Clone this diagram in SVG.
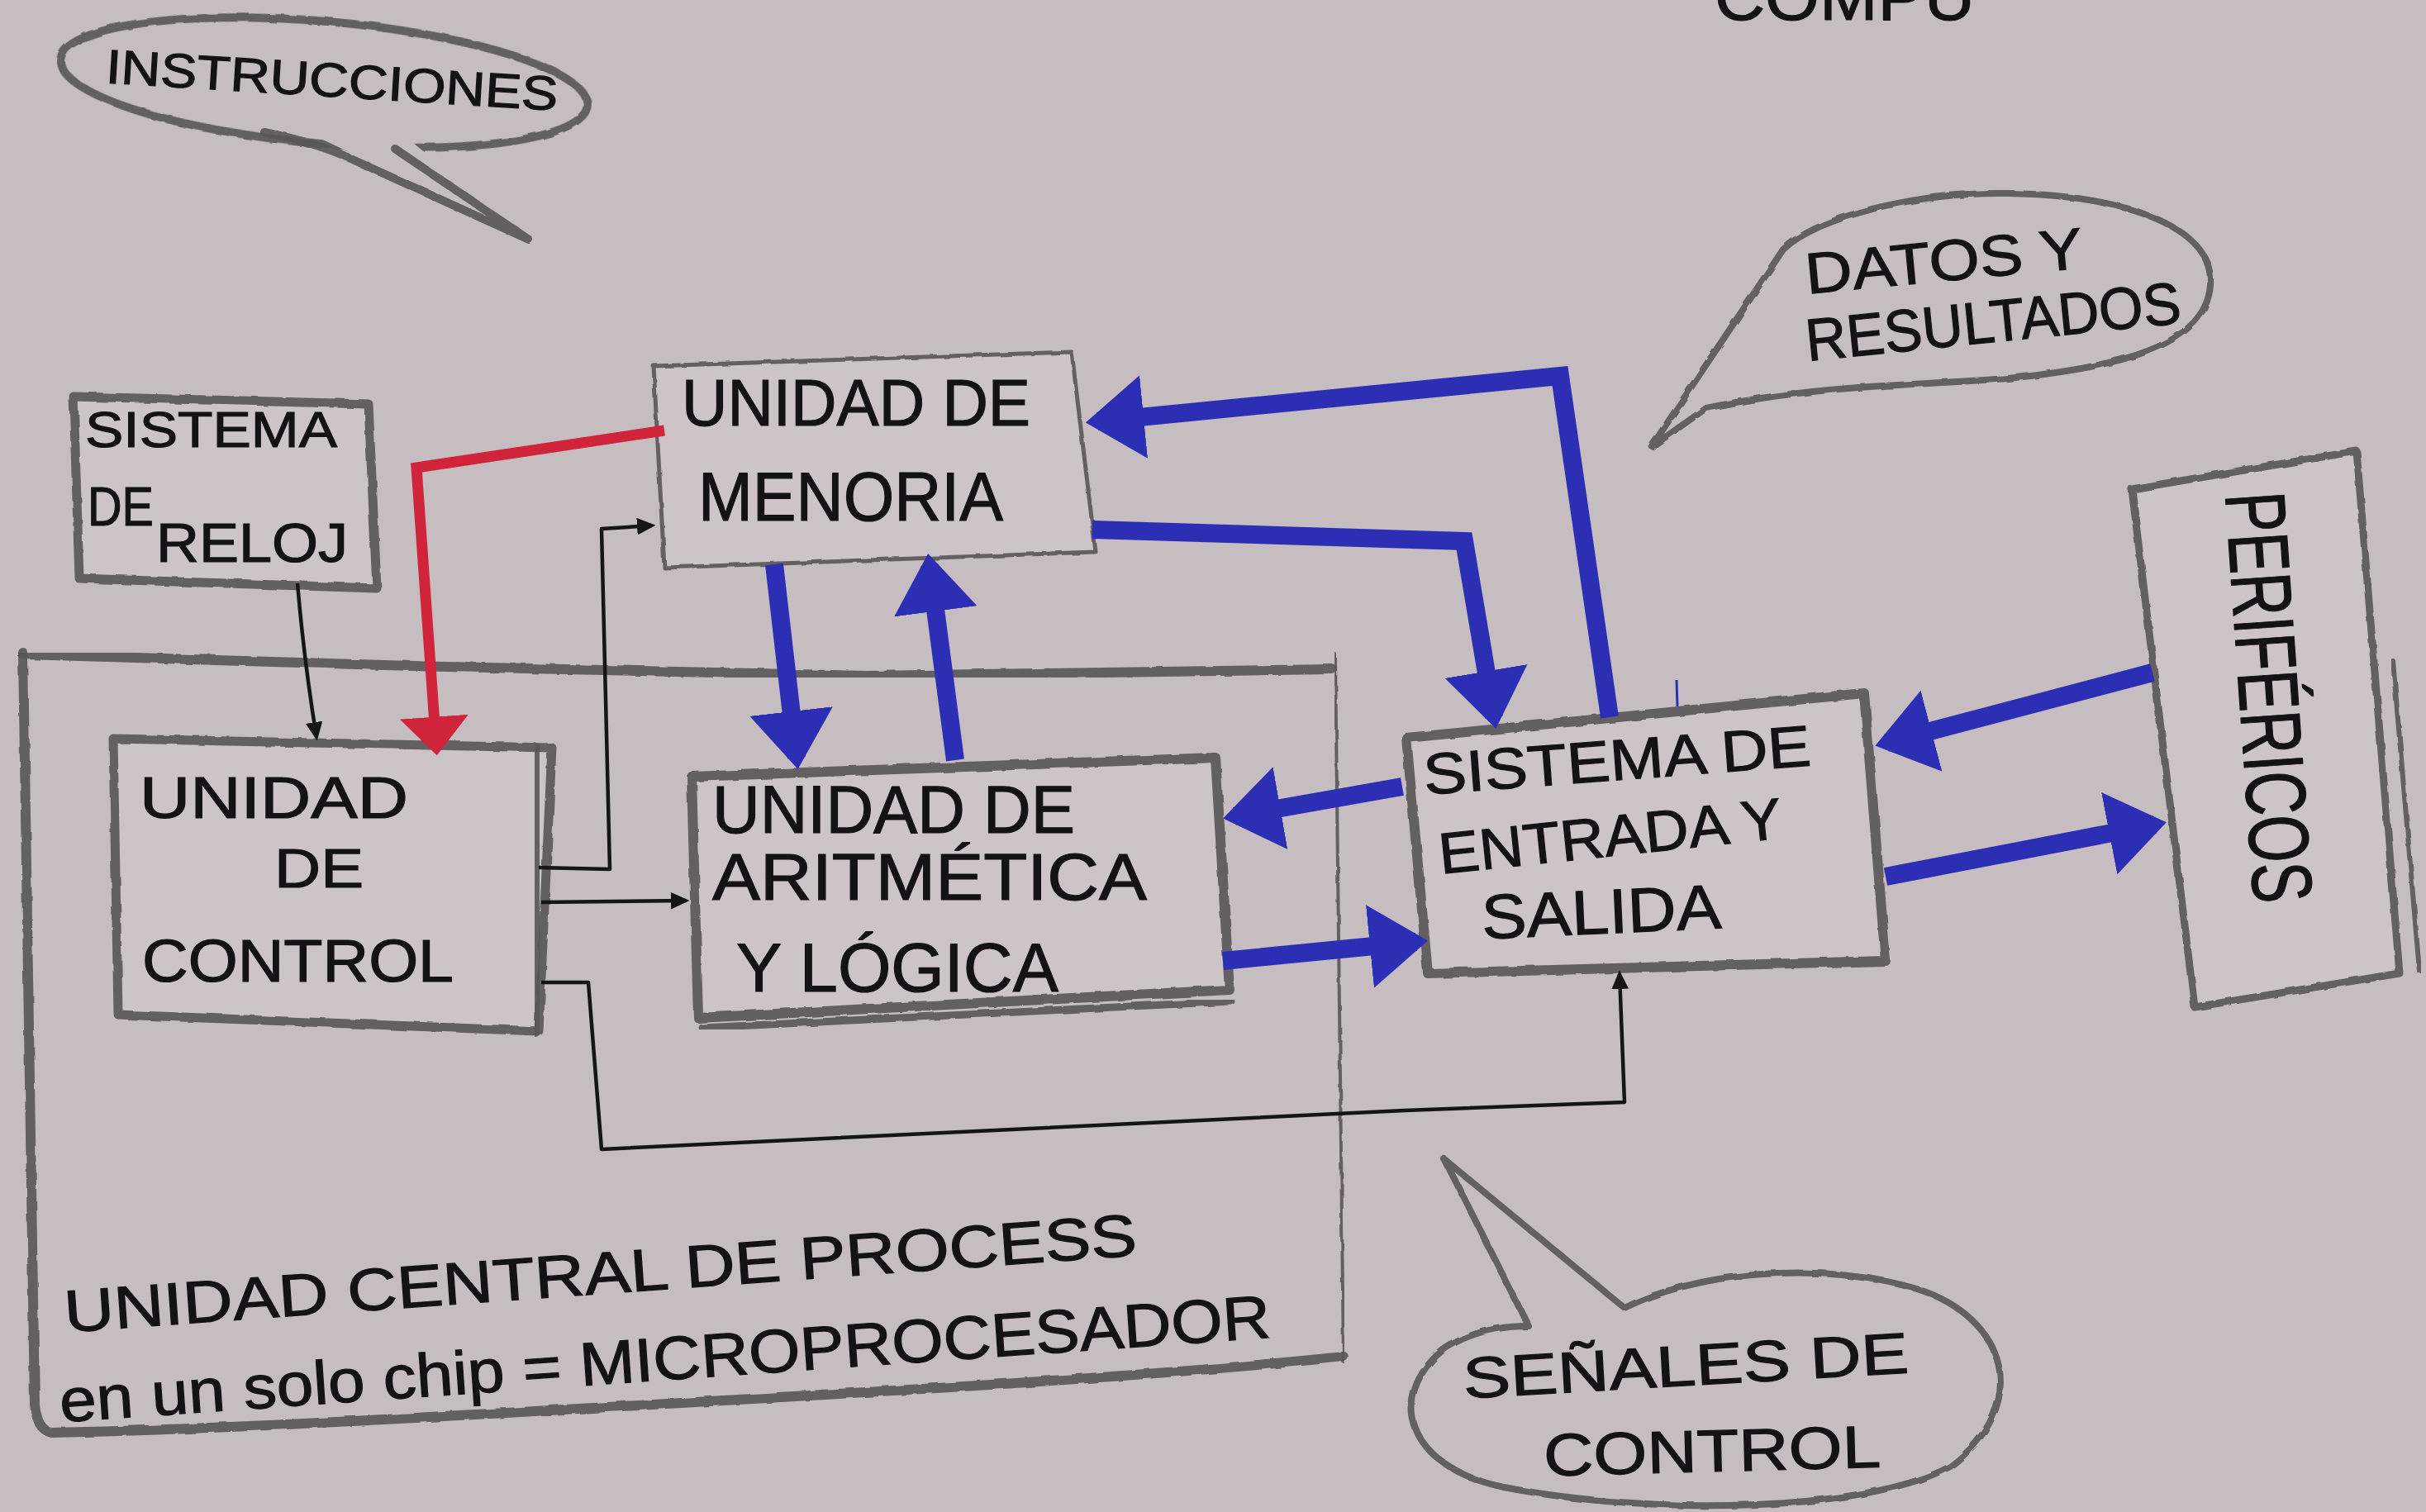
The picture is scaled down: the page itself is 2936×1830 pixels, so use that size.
<svg xmlns="http://www.w3.org/2000/svg" width="2936" height="1830" viewBox="0 0 2936 1830">
<style>
.pencil{fill:none;stroke:#5a5658;stroke-linejoin:round;stroke-linecap:round;opacity:0.9;filter:url(#rough)}
.boxfill{fill:#cdc5c8}
.t{font-family:"Liberation Sans",Arial,sans-serif;fill:#141214;stroke:#141214;stroke-width:1.2}
.blue{fill:none;stroke:#2c2fb4;stroke-width:22;stroke-linejoin:miter}
.red{fill:none;stroke:#d0243a;stroke-width:13;stroke-linejoin:miter}
.ink{fill:none;stroke:#151515;stroke-width:4.5;stroke-linejoin:round}
</style>
<defs>
<filter id="rough" x="-5%" y="-5%" width="110%" height="110%">
<feTurbulence type="fractalNoise" baseFrequency="0.05" numOctaves="2" seed="3"/>
<feDisplacementMap in="SourceGraphic" scale="4"/>
</filter>
<marker id="hb" viewBox="0 0 10 10" refX="8" refY="5" markerWidth="3.2" markerHeight="4.6" orient="auto" preserveAspectRatio="none"><path d="M0,0 L10,5 L0,10 Z" fill="#2c2fb4"/></marker>
<marker id="hr" viewBox="0 0 10 10" refX="8" refY="5" markerWidth="3.6" markerHeight="6.4" orient="auto" preserveAspectRatio="none"><path d="M0,0 L10,5 L0,10 Z" fill="#d0243a"/></marker>
<marker id="hk" viewBox="0 0 10 10" refX="8" refY="5" markerWidth="5" markerHeight="4.6" orient="auto" preserveAspectRatio="none"><path d="M0,0 L10,5 L0,10 Z" fill="#151515"/></marker>
</defs>
<rect x="0" y="0" width="2936" height="1830" fill="#c6bdc0"/>

<text class="t" x="2075" y="24" font-size="80" textLength="315" lengthAdjust="spacingAndGlyphs">COMPU</text>

<g id="instrucciones">
<ellipse class="pencil" cx="392" cy="100" rx="320" ry="74" transform="rotate(5 392 100)" stroke-width="10"/>
<polygon points="350,150 482,158 632,282" fill="#c6bdc0"/>
<path class="pencil" d="M320 160 Q380 172 420 190 L640 290 L478 180" stroke-width="10"/>
<text class="t" x="128" y="117" font-size="58" textLength="548" lengthAdjust="spacingAndGlyphs" transform="rotate(3.5 402 95)">INSTRUCCIONES</text>
</g>

<g id="datos">
<path class="pencil" stroke-width="8" d="M1999 540 L2158 302 C2200 262 2320 232 2430 234 C2560 236 2680 270 2675 345 C2670 420 2560 445 2430 458 C2330 466 2200 465 2065 494 L2000 540"/>
<text class="t" x="2184" y="340" font-size="70" textLength="337" lengthAdjust="spacingAndGlyphs" transform="rotate(-5.4 2352 315)">DATOS Y</text>
<text class="t" x="2184" y="414" font-size="72" textLength="456" lengthAdjust="spacingAndGlyphs" transform="rotate(-5.8 2412 388)">RESULTADOS</text>
</g>

<g id="senales">
<path class="pencil" stroke-width="8" d="M1748 1403 L1966 1583 C2050 1540 2200 1525 2320 1560 C2430 1595 2460 1700 2360 1775 C2260 1830 2000 1835 1820 1800 C1700 1775 1680 1690 1745 1635 C1780 1610 1820 1605 1850 1605 L1748 1403"/>
<text class="t" x="1770" y="1677" font-size="70" textLength="540" lengthAdjust="spacingAndGlyphs" transform="rotate(-3.3 2040 1652)">SEÑALES DE</text>
<text class="t" x="1868" y="1781" font-size="72" textLength="408" lengthAdjust="spacingAndGlyphs" transform="rotate(-1.5 2072 1755)">CONTROL</text>
</g>

<g id="cpu">
<path class="pencil" stroke-width="12" d="M28 792 L500 806 L1050 818 L1612 810"/>
<path class="pencil" stroke-width="4" d="M1616 792 L1626 1648"/>
<path class="pencil" stroke-width="12" d="M28 790 L42 1700 Q45 1730 62 1734 C300 1730 700 1705 1100 1682 C1400 1664 1550 1650 1626 1642"/>
<text class="t" x="76" y="1566" font-size="72" textLength="1301" lengthAdjust="spacingAndGlyphs" transform="rotate(-4.1 726 1540)">UNIDAD CENTRAL DE PROCESS</text>
<text class="t" x="70" y="1670" font-size="74" textLength="1469" lengthAdjust="spacingAndGlyphs" transform="rotate(-4 805 1643)">en un solo chip = MICROPROCESADOR</text>
</g>

<g id="reloj">
<path class="pencil boxfill" stroke-width="11" d="M89 480 L446 489 L456 712 L96 700 Z"/>
<text class="t" x="103" y="541" font-size="62" textLength="305" lengthAdjust="spacingAndGlyphs">SISTEMA</text>
<text class="t" x="106" y="636" font-size="66" textLength="80" lengthAdjust="spacingAndGlyphs">DE</text>
<text class="t" x="189" y="680" font-size="66" textLength="232" lengthAdjust="spacingAndGlyphs">RELOJ</text>
</g>

<g id="memoria">
<path class="pencil boxfill" stroke-width="5" stroke="#7a7577" d="M791 443 L1297 426 L1326 668 L804 687 Z"/>
<text class="t" x="825" y="515" font-size="80" textLength="422" lengthAdjust="spacingAndGlyphs">UNIDAD DE</text>
<text class="t" x="845" y="630" font-size="84" textLength="369" lengthAdjust="spacingAndGlyphs">MENORIA</text>
</g>

<g id="control">
<path class="pencil boxfill" stroke-width="11" d="M137 894 L668 905 L652 1248 L143 1228 Z"/>
<path class="pencil" stroke-width="16" d="M652 910 L648 1248"/>
<text class="t" x="169" y="990" font-size="70" textLength="325" lengthAdjust="spacingAndGlyphs">UNIDAD</text>
<text class="t" x="332" y="1074" font-size="66" textLength="108" lengthAdjust="spacingAndGlyphs">DE</text>
<text class="t" x="172" y="1188" font-size="72" textLength="377" lengthAdjust="spacingAndGlyphs">CONTROL</text>
</g>

<g id="alu">
<path class="pencil boxfill" stroke-width="12" d="M837 940 L1471 917 L1488 1198 L845 1232 Z"/>
<path class="pencil" stroke-width="9" d="M850 1244 L1490 1212"/>
<text class="t" x="862" y="1008" font-size="82" textLength="439" lengthAdjust="spacingAndGlyphs">UNIDAD DE</text>
<text class="t" x="862" y="1089" font-size="80" textLength="526" lengthAdjust="spacingAndGlyphs">ARITMÉTICA</text>
<text class="t" x="891" y="1200" font-size="84" textLength="390" lengthAdjust="spacingAndGlyphs">Y LÓGICA</text>
</g>

<g id="entrada-salida">
<path class="pencil boxfill" stroke-width="12" d="M1702 893 L2256 839 L2282 1163 L1728 1178 Z"/>
<text class="t" x="1722" y="944" font-size="70" textLength="470" lengthAdjust="spacingAndGlyphs" transform="rotate(-4.3 1958 920)">SISTEMA DE</text>
<text class="t" x="1740" y="1036" font-size="70" textLength="417" lengthAdjust="spacingAndGlyphs" transform="rotate(-6 1950 1010)">ENTRADA Y</text>
<text class="t" x="1793" y="1130" font-size="76" textLength="290" lengthAdjust="spacingAndGlyphs" transform="rotate(-2.6 1938 1105)">SALIDA</text>
</g>

<g id="perifericos">
<path class="pencil boxfill" stroke-width="9" d="M2580 592 L2852 546 L2904 1178 L2656 1219 Z"/>
<path class="pencil" stroke-width="6" d="M2896 800 L2928 1175"/>
<text class="t" x="0" y="0" font-size="103" textLength="498" lengthAdjust="spacingAndGlyphs" transform="translate(2693 598) rotate(86)">PERIFÉRICOS</text>
</g>

<g id="connectors">
<path class="red" d="M804 521 L504 566 L528 905" marker-end="url(#hr)"/>
<path class="ink" d="M360 706 Q368 800 383 892" marker-end="url(#hk)"/>
<path class="ink" d="M652 1050 L738 1052 L728 640 L789 636" marker-end="url(#hk)"/>
<path class="ink" d="M655 1092 L830 1090" marker-end="url(#hk)"/>
<path class="ink" d="M655 1189 L712 1189 L728 1391 L1700 1344 L1966 1334 L1960 1179" marker-end="url(#hk)"/>
<path class="blue" d="M937 683 L964 917" marker-end="url(#hb)"/>
<path class="blue" d="M1156 920 L1125 684" marker-end="url(#hb)"/>
<path class="blue" d="M1948 868 L1888 455 L1328 510" marker-end="url(#hb)"/>
<path class="blue" d="M1322 641 L1772 655 L1808 868" marker-end="url(#hb)"/>
<path class="blue" d="M1697 952 L1494 988" marker-end="url(#hb)"/>
<path class="blue" d="M1480 1163 L1714 1140" marker-end="url(#hb)"/>
<path class="blue" d="M2605 814 L2283 899" marker-end="url(#hb)"/>
<path class="blue" d="M2282 1061 L2608 998" marker-end="url(#hb)"/>
<path d="M2029 823 L2030 855" stroke="#2c2fb4" stroke-width="3" fill="none"/>
</g>
</svg>
